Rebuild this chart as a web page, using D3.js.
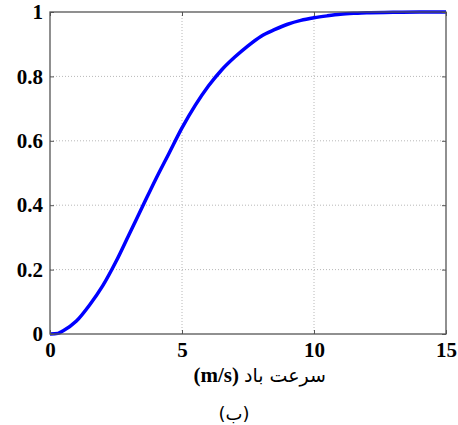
<!DOCTYPE html>
<html>
<head>
<meta charset="utf-8">
<script src="https://cdn.jsdelivr.net/npm/d3@7"></script>
<style>
    body { margin: 0; background: #fff; }
    .tick text { font-family: "Liberation Serif", serif; font-weight: bold; font-size: 21px; fill: #000; }
</style>
</head>
<body>
<svg width="458" height="425"></svg>
<script>
// wind speed (m/s) and cumulative probability
var speeds = [0, 0.3, 0.5, 1, 1.5, 2, 2.5, 3, 3.5, 4, 4.5, 5, 5.5, 6, 6.5, 7, 7.5, 8, 8.5, 9, 9.5, 10, 10.5, 11, 11.5, 12, 13, 14, 15];
var cdf = [0, 0.002, 0.01, 0.04, 0.09, 0.15, 0.225, 0.31, 0.395, 0.48, 0.56, 0.64, 0.71, 0.77, 0.82, 0.86, 0.895, 0.925, 0.945, 0.962, 0.974, 0.982, 0.988, 0.993, 0.996, 0.998, 0.999, 1, 1];
var xTicks = [0, 5, 10, 15];
var yTicks = [0, 0.2, 0.4, 0.6, 0.8, 1];
var xLabelFa = "سرعت باد";
var xLabelUnit = "(m/s)";
var caption = "(ب)";

draw();

function draw() {
    var svg = d3.select("svg");
    var pl = 50, pr = 446, pt = 12, pb = 334;

    var x = d3.scaleLinear().domain([0, 15]).range([pl, pr]);
    var y = d3.scaleLinear().domain([0, 1]).range([pb, pt]);

    // grid
    svg.append("g")
        .selectAll("line")
        .data(xTicks.slice(1, -1))
        .enter()
        .append("line")
        .attr("x1", d => x(d)).attr("x2", d => x(d))
        .attr("y1", pt).attr("y2", pb)
        .attr("stroke", "#b8b8b8").attr("stroke-dasharray", "1,2");
    svg.append("g")
        .selectAll("line")
        .data(yTicks.slice(1, -1))
        .enter()
        .append("line")
        .attr("y1", d => y(d)).attr("y2", d => y(d))
        .attr("x1", pl).attr("x2", pr)
        .attr("stroke", "#b8b8b8").attr("stroke-dasharray", "1,2");

    // curve
    var line = d3.line().x((d, i) => x(speeds[i])).y(d => y(d)).curve(d3.curveMonotoneX);
    svg.append("path")
        .datum(cdf)
        .attr("d", line)
        .attr("fill", "none")
        .attr("stroke", "#0000ff")
        .attr("stroke-width", 3.5);

    // axes (ticks inward, matlab style)
    var xAxis = d3.axisBottom(x).tickValues(xTicks).tickFormat(d3.format("d")).tickSizeInner(-4).tickSizeOuter(0).tickPadding(8);
    var yAxis = d3.axisLeft(y).tickValues(yTicks).tickFormat(d => d === 0 || d === 1 ? d : d3.format(".1f")(d)).tickSizeInner(-4).tickSizeOuter(0).tickPadding(7);

    svg.append("g").attr("transform", "translate(0," + pb + ")").call(xAxis);
    svg.append("g").attr("transform", "translate(" + pl + ",0)").call(yAxis);
    svg.append("g").attr("transform", "translate(0," + pt + ")")
        .call(d3.axisTop(x).tickValues(xTicks).tickFormat("").tickSizeInner(-4).tickSizeOuter(0));
    svg.append("g").attr("transform", "translate(" + pr + ",0)")
        .call(d3.axisRight(y).tickValues(yTicks).tickFormat("").tickSizeInner(-4).tickSizeOuter(0));
    svg.selectAll(".domain").remove();
    svg.selectAll(".tick line").attr("stroke", "#555");

    // frame
    svg.append("rect")
        .attr("x", pl).attr("y", pt)
        .attr("width", pr - pl).attr("height", pb - pt)
        .attr("fill", "none").attr("stroke", "#555").attr("stroke-width", 1.3);

    // x label: persian words on the right, unit on the left
    svg.append("text")
        .attr("x", 326).attr("y", 382)
        .attr("text-anchor", "start")
        .attr("direction", "rtl")
        .attr("font-family", "'DejaVu Sans', sans-serif")
        .attr("font-size", 19)
        .text(xLabelFa);
    svg.append("text")
        .attr("x", 239).attr("y", 382)
        .attr("text-anchor", "end")
        .attr("font-family", "'Liberation Serif', serif")
        .attr("font-weight", "bold")
        .attr("font-size", 21)
        .text(xLabelUnit);

    svg.append("text")
        .attr("x", 234).attr("y", 420)
        .attr("text-anchor", "middle")
        .attr("direction", "rtl")
        .attr("font-family", "'DejaVu Sans', sans-serif")
        .attr("font-size", 18)
        .text(caption);
}
</script>
</body>
</html>
